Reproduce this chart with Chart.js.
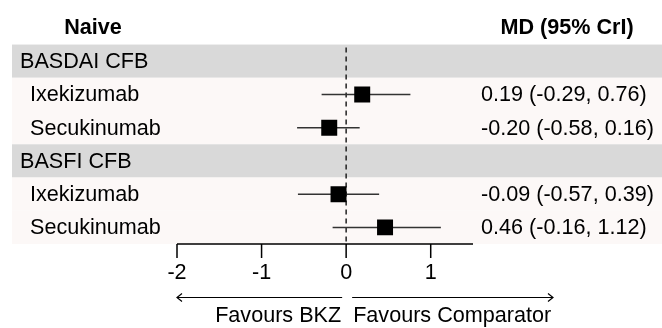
<!DOCTYPE html>
<html>
<head>
<meta charset="utf-8">
<script src="https://cdn.jsdelivr.net/npm/chart.js@4"></script>
<style>
  html, body { margin: 0; padding: 0; background: #fff; }
  canvas { display: block; }
</style>
</head>
<body>
<canvas id="forestChart" width="662" height="328"></canvas>
<script>
// data
const groupTitle = 'Naive';
const statTitle = 'MD (95% CrI)';
const outcomes = ['BASDAI CFB', 'BASFI CFB'];
const comparators = ['Ixekizumab', 'Secukinumab'];
const md = [0.19, -0.20, -0.09, 0.46];
const lower = [-0.29, -0.58, -0.57, -0.16];
const upper = [0.76, 0.16, 0.39, 1.12];
const xTicks = [-2, -1, 0, 1];
const favourLeft = 'Favours BKZ';
const favourRight = 'Favours Comparator';

const FONT = '21.6px "Liberation Sans", Arial, sans-serif';
const BOLD = 'bold 21.6px "Liberation Sans", Arial, sans-serif';
const GREY = '#d9d9d9';
const PINK = '#fcf8f7';

// rows: 0 = header, then outcome row followed by its comparator rows
const rows = [];
outcomes.forEach((o, g) => {
    rows.push({ type: 'outcome', label: o });
    comparators.forEach((c, k) => {
        rows.push({ type: 'item', label: c, idx: g * comparators.length + k });
    });
});

const squares = [];
const ciSets = [];
rows.forEach((r, i) => {
    if (r.type !== 'item') return;
    const y = i + 1;
    squares.push({ x: md[r.idx], y: y });
    ciSets.push({
        type: 'scatter',
        data: [{ x: lower[r.idx], y: y }, { x: upper[r.idx], y: y }],
        showLine: true,
        borderColor: '#333333',
        borderWidth: 1.5,
        pointRadius: 0,
        order: 1
    });
});

const forestDecor = {
    id: 'forestDecor',
    beforeDatasetsDraw(chart) {
        const ctx = chart.ctx;
        const xs = chart.scales.x;
        const ys = chart.scales.y;
        const left = 12;
        const right = chart.width;
        const half = Math.abs(ys.getPixelForValue(1) - ys.getPixelForValue(0)) / 2;

        ctx.save();
        // background bands
        rows.forEach((r, i) => {
            const yc = ys.getPixelForValue(i + 1);
            ctx.fillStyle = r.type === 'outcome' ? GREY : PINK;
            ctx.fillRect(left, yc - half, right - left, half * 2);
        });

        // headers
        ctx.fillStyle = '#000';
        ctx.font = BOLD;
        ctx.textBaseline = 'middle';
        ctx.textAlign = 'center';
        const yh = ys.getPixelForValue(0);
        ctx.fillText(groupTitle, 93, yh);
        ctx.fillText(statTitle, 567, yh);

        // row labels and values
        ctx.font = FONT;
        rows.forEach((r, i) => {
            const yc = ys.getPixelForValue(i + 1) + 1;
            ctx.textAlign = 'left';
            if (r.type === 'outcome') {
                ctx.fillText(r.label, 20, yc);
            } else {
                ctx.fillText(r.label, 30, yc);
                const txt = md[r.idx].toFixed(2) + ' (' + lower[r.idx].toFixed(2) + ', ' + upper[r.idx].toFixed(2) + ')';
                ctx.fillText(txt, 481, yc);
            }
        });

        // null line
        const x0 = xs.getPixelForValue(0);
        ctx.strokeStyle = '#222';
        ctx.lineWidth = 1.5;
        ctx.setLineDash([5, 4]);
        ctx.beginPath();
        ctx.moveTo(x0, ys.getPixelForValue(0.5) + 3);
        ctx.lineTo(x0, chart.chartArea.bottom);
        ctx.stroke();
        ctx.setLineDash([]);

        // x axis
        const yAxis = chart.chartArea.bottom;
        ctx.strokeStyle = '#000';
        ctx.lineWidth = 1.5;
        ctx.beginPath();
        ctx.moveTo(chart.chartArea.left, yAxis);
        ctx.lineTo(chart.chartArea.right, yAxis);
        xTicks.forEach(t => {
            const px = xs.getPixelForValue(t);
            ctx.moveTo(px, yAxis);
            ctx.lineTo(px, yAxis + 14);
        });
        ctx.stroke();
        ctx.textAlign = 'center';
        xTicks.forEach(t => {
            ctx.fillText(String(t), xs.getPixelForValue(t), yAxis + 29);
        });

        // favours arrows
        const ya = yAxis + 53.5;
        const lEnd = xs.getPixelForValue(-2);
        const rEnd = 553;
        ctx.lineWidth = 1.2;
        ctx.beginPath();
        ctx.moveTo(x0 - 4, ya);
        ctx.lineTo(lEnd, ya);
        ctx.moveTo(lEnd + 5, ya - 4);
        ctx.lineTo(lEnd, ya);
        ctx.lineTo(lEnd + 5, ya + 4);
        ctx.moveTo(x0 + 6, ya);
        ctx.lineTo(rEnd, ya);
        ctx.moveTo(rEnd - 5, ya - 4);
        ctx.lineTo(rEnd, ya);
        ctx.lineTo(rEnd - 5, ya + 4);
        ctx.stroke();

        ctx.textAlign = 'right';
        ctx.fillText(favourLeft, x0 - 5, yAxis + 72);
        ctx.textAlign = 'left';
        ctx.fillText(favourRight, x0 + 7, yAxis + 72);
        ctx.restore();
    }
};

new Chart(document.getElementById('forestChart'), {
    type: 'scatter',
    data: {
        datasets: [{
            data: squares,
            pointStyle: 'rect',
            pointRadius: 11.3,
            pointHoverRadius: 11.3,
            backgroundColor: '#000',
            borderColor: '#000',
            borderWidth: 0,
            order: 0
        }].concat(ciSets)
    },
    options: {
        responsive: false,
        animation: false,
        layout: { padding: { left: 177, right: 189, top: 6, bottom: 84 } },
        scales: {
            x: { type: 'linear', min: -2, max: 1.5, display: false },
            y: { type: 'linear', min: -0.5, max: 6.5, reverse: true, display: false }
        },
        plugins: {
            legend: { display: false },
            tooltip: { enabled: false }
        }
    },
    plugins: [forestDecor]
});
</script>
</body>
</html>
